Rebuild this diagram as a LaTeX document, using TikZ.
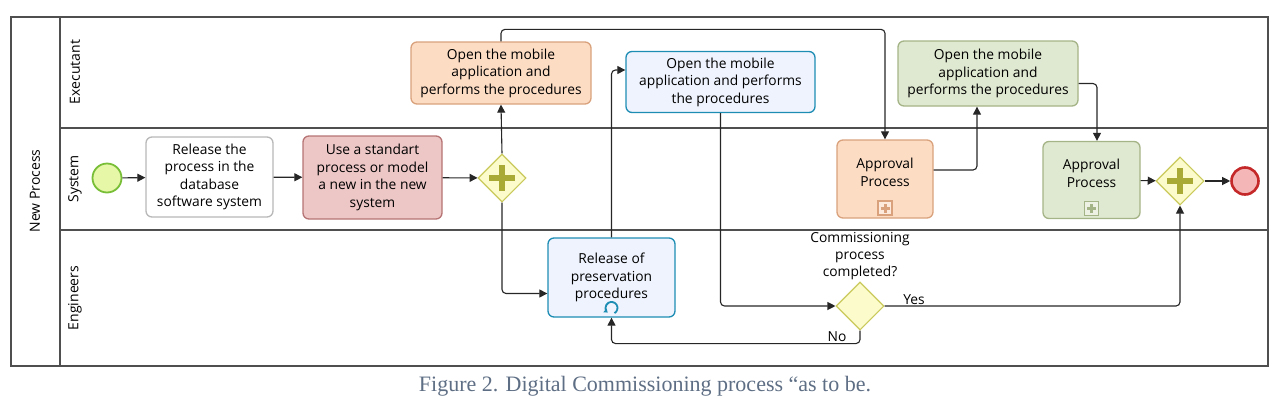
\documentclass[tikz,border=0pt]{standalone}
\usepackage{fontspec}
\setmainfont{Open Sans}
\newfontfamily\captionfont{Liberation Serif}
\usetikzlibrary{arrows.meta, positioning, shapes.geometric}

\definecolor{poolgray}{HTML}{4F4F4F}
\definecolor{startfill}{HTML}{E6F7A8}
\definecolor{startdraw}{HTML}{78BE36}
\definecolor{endfill}{HTML}{F4B6B6}
\definecolor{enddraw}{HTML}{C42828}
\definecolor{gatefill}{HTML}{FBFBCB}
\definecolor{gatedraw}{HTML}{C9C95C}
\definecolor{gateplus}{HTML}{A9AA35}
\definecolor{plaindraw}{HTML}{B8B8B8}
\definecolor{redfill}{HTML}{EDC6C6}
\definecolor{reddraw}{HTML}{B77474}
\definecolor{orangefill}{HTML}{FDDCC4}
\definecolor{orangedraw}{HTML}{D9A27C}
\definecolor{bluefill}{HTML}{EEF3FD}
\definecolor{bluedraw}{HTML}{1E8DB4}
\definecolor{greenfill}{HTML}{DFE8D0}
\definecolor{greendraw}{HTML}{A5B487}
\definecolor{captiongray}{HTML}{5E6E84}

\begin{document}
\begin{tikzpicture}[
    x=1pt, y=-1pt,
    pool/.style={
        draw=poolgray,
        line width=1.1pt,
    },
    lanetext/.style={
        rotate=90,
        font=\fontsize{14}{16}\selectfont,
    },
    task/.style={
        rectangle,
        draw,
        rounded corners=6pt,
        line width=1.3pt,
        align=center,
        inner sep=2pt,
        font=\fontsize{13.8}{17.5}\selectfont,
    },
    event/.style={
        circle,
        draw,
        minimum size=29pt,
        inner sep=0pt,
    },
    gateway/.style={
        diamond,
        draw=gatedraw,
        fill=gatefill,
        line width=1.1pt,
        minimum width=48pt,
        minimum height=48pt,
        inner sep=0pt,
    },
    parallel/.style={
        gateway,
        path picture={
            \draw[gateplus, line width=5.5pt]
                (path picture bounding box.center) ++(-13pt,0) -- ++(26pt,0)
                (path picture bounding box.center) ++(0,-13pt) -- ++(0,26pt);
        },
    },
    submarker/.style={
        rectangle,
        draw,
        line width=1.2pt,
        minimum size=14pt,
        inner sep=0pt,
        path picture={
            \draw[line width=3pt]
                (path picture bounding box.center) ++(-4.5pt,0) -- ++(9pt,0)
                (path picture bounding box.center) ++(0,-4.5pt) -- ++(0,9pt);
        },
    },
    flow/.style={
        draw=black!85,
        line width=1.1pt,
        rounded corners=4pt,
        -{Triangle[length=8pt, width=8pt]},
    },
    flowlabel/.style={
        font=\fontsize{13.8}{17}\selectfont,
        inner sep=1pt,
    }
]
    \useasboundingbox (0,0) rectangle (1283,405);

    % Pool and lanes
    \draw[pool] (11,17) rectangle (1268,366);
    \draw[pool] (60,17) -- (60,366);
    \draw[pool] (60,128) -- (1268,128);
    \draw[pool] (60,230) -- (1268,230);
    \node[lanetext] (pooltitle) at (35,191) {New Process};
    \node[lanetext] (laneexec) at (75,72) {Executant};
    \node[lanetext] (lanesys) at (75,179) {System};
    \node[lanetext] (laneeng) at (75,298) {Engineers};

    % System lane
    \node[event, draw=startdraw, fill=startfill, line width=1.8pt] (start) at (107,178) {};
    \node[task, draw=plaindraw, fill=white, minimum width=127pt, minimum height=80pt] (release) at (209.5,177) {Release the\\process in the\\database\\software system};
    \node[task, draw=reddraw, fill=redfill, minimum width=139pt, minimum height=83pt] (standard) at (372.5,177.5) {Use a standart\\process or model\\a new in the new\\system};
    \node[parallel] (split) at (502,178) {};
    \node[task, draw=orangedraw, fill=orangefill, minimum width=96pt, minimum height=78pt] (approvalA) at (885,179) {Approval\\Process\\[-4pt]};
    \node[submarker, draw=orangedraw, fill=orangefill!60, text=orangedraw, above=3pt of approvalA.south] (markerA) {};
    \node[task, draw=greendraw, fill=greenfill, minimum width=97pt, minimum height=77pt] (approvalB) at (1091.5,180) {Approval\\Process\\[-4pt]};
    \node[submarker, draw=greendraw, fill=greenfill!60, text=greendraw, above=3pt of approvalB.south] (markerB) {};
    \node[parallel] (join) at (1180,181) {};
    \node[event, draw=enddraw, fill=endfill, line width=2.6pt, minimum size=27pt] (end) at (1245,181) {};

    % Executant lane
    \node[task, draw=orangedraw, fill=orangefill, minimum width=180pt, minimum height=62pt] (openA) at (501,73) {Open the mobile\\application and\\performs the procedures};
    \node[task, draw=bluedraw, fill=bluefill, minimum width=189pt, minimum height=61pt] (openB) at (720.5,82) {Open the mobile\\application and performs\\the procedures};
    \node[task, draw=greendraw, fill=greenfill, minimum width=180pt, minimum height=65pt] (openC) at (988,73.5) {Open the mobile\\application and\\performs the procedures};

    % Engineers lane
    \node[task, draw=bluedraw, fill=bluefill, minimum width=127pt, minimum height=79pt] (preserve) at (611.5,277.5) {Release of\\preservation\\procedures};
    \draw[bluedraw, line width=1.8pt, -{Triangle[length=3.5pt, width=5pt]}]
        ([xshift=3pt, yshift=4.5pt]preserve.south) arc[start angle=-60, end angle=230, radius=6pt];
    \node[gateway, label={[flowlabel, align=center]above:{Commissioning\\process\\completed?}}] (decide) at (860,306) {};

    % Flows
    \draw[flow] (start) -- (release);
    \draw[flow] (release) -- (standard);
    \draw[flow] (standard) -- (split);
    \draw[flow] (split.north) -- (openA.south);
    \draw[flow] (split.south) |- ([yshift=-16pt]preserve.west);
    \draw[flow] (openA.north) -- ++(0,-12) -| (approvalA.north);
    \draw[flow] (preserve.north) |- ([yshift=12pt]openB.west);
    \draw[flow] (openB.south) |- (decide.west);
    \draw[flow] (decide.east) -| node[flowlabel, pos=0.05, above] {Yes} (join.south);
    \draw[flow] (decide.south) -- ++(0,13) node[flowlabel, above left, xshift=-12pt] {No} -| (preserve.south);
    \draw[flow] ([yshift=9pt]approvalA.east) -| ([xshift=-11pt]openC.south);
    \draw[flow] ([yshift=-10pt]openC.east) -| ([xshift=5.5pt]approvalB.north);
    \draw[flow] (approvalB) -- (join);
    \draw[flow] (join) -- (end);

    % Caption
    \node[font=\captionfont\fontsize{22}{24}\selectfont, text=captiongray] (caption) at (645,386) {Figure 2. Digital Commissioning process “as to be.};
\end{tikzpicture}
\end{document}
